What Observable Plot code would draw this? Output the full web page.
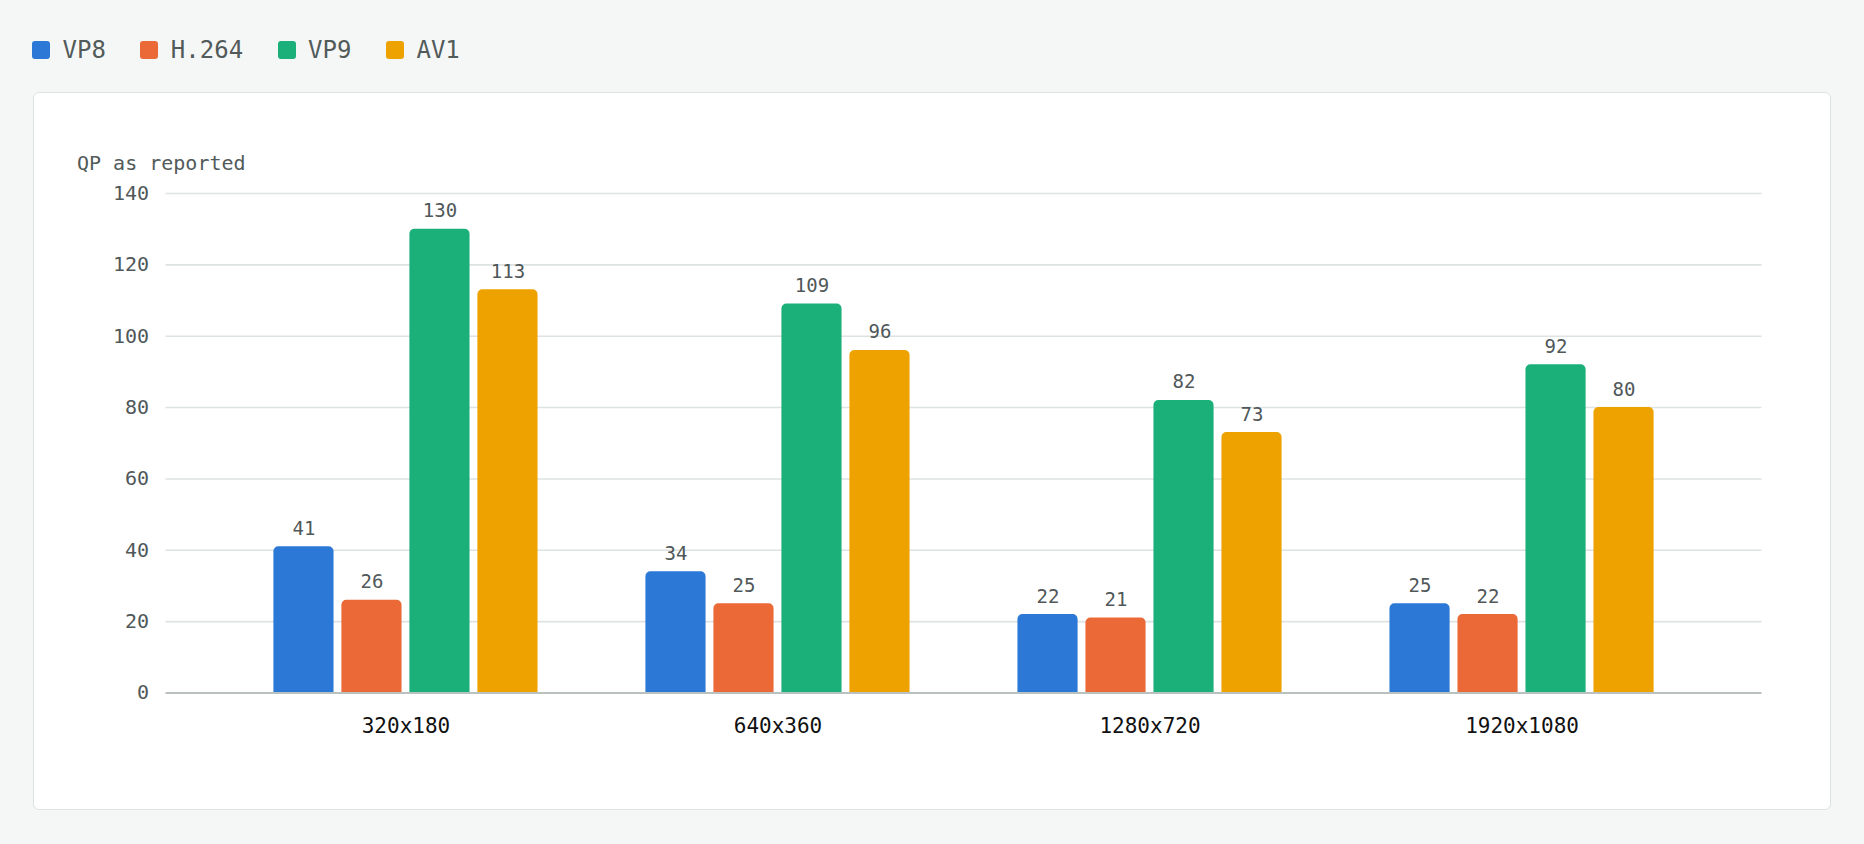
<!DOCTYPE html>
<html>
<head>
<meta charset="utf-8">
<script src="https://cdn.jsdelivr.net/npm/d3@7"></script>
<script src="https://cdn.jsdelivr.net/npm/@observablehq/plot@0.6"></script>
<style>
  html, body { margin: 0; padding: 0; background: #f5f7f7; width: 1864px; height: 844px; overflow: hidden; }
  body { font-family: "DejaVu Sans Mono", monospace; position: relative; }
  #legend { position: absolute; left: 32px; top: 37.5px; display: flex; align-items: center; height: 24px; }
  .item { display: flex; align-items: center; height: 24px; margin-right: 34.5px; }
  .sw { width: 18px; height: 18px; border-radius: 3px; margin-right: 12.5px; }
  .lt { font-size: 24px; line-height: 24px; color: #525a5a; }
  #card { position: absolute; left: 33px; top: 92px; width: 1798px; height: 718px; box-sizing: border-box;
          background: #fff; border: 1.5px solid #dde2e2; border-radius: 6px; }
  #ylabel { position: absolute; left: 43px; top: 59.5px; font-size: 20px; line-height: 20px; color: #525a5a; white-space: nowrap; }
  #chart { position: absolute; left: 0; top: 0; }
</style>
</head>
<body>
<div id="legend"></div>
<div id="card">
  <div id="ylabel">QP as reported</div>
  <div id="chart"></div>
</div>
<script>
const resolutions = ["320x180", "640x360", "1280x720", "1920x1080"];
const codecs = ["VP8", "H.264", "VP9", "AV1"];
const codecColors = ["#2b78d6", "#eb6837", "#1bb07a", "#eea200"];
const vp8 = [41, 34, 22, 25];
const h264 = [26, 25, 21, 22];
const vp9 = [130, 109, 82, 92];
const av1 = [113, 96, 73, 80];
const yTicks = [0, 20, 40, 60, 80, 100, 120, 140];

const series = [vp8, h264, vp9, av1];
const data = resolutions.flatMap((r, i) => codecs.map((c, j) => ({res: r, codec: c, value: series[j][i]})));

// legend
const legend = document.getElementById("legend");
codecs.forEach((c, j) => {
  const it = document.createElement("div");
  it.className = "item";
  it.innerHTML = `<div class="sw" style="background:${codecColors[j]}"></div><span class="lt">${c}</span>`;
  legend.appendChild(it);
});

const STEP = 68; // bar width + gap within a group
const n = codecs.length;

const marks = [
  Plot.ruleY(yTicks.filter(t => t > 0), {stroke: "#dde2e2", strokeWidth: 1.6}),
  ...codecs.map((c, j) => Plot.barY(data.filter(d => d.codec === c), {
    x: "res", y: "value", fill: "codec",
    insetLeft: j * STEP, insetRight: (n - 1 - j) * STEP,
    ry1: 5
  })),
  Plot.ruleY([0], {stroke: "#b9c1c1", strokeWidth: 2}),
  ...codecs.map((c, j) => Plot.text(data.filter(d => d.codec === c), {
    x: "res", y: "value", text: d => String(d.value),
    dx: (j - (n - 1) / 2) * STEP, dy: -12, lineAnchor: "bottom",
    fill: "#50585a", fontSize: 19
  })),
  Plot.axisY({ticks: yTicks, tickSize: 0, tickPadding: 17, fontSize: 20, color: "#50585a", label: null}),
  Plot.axisX({tickSize: 0, tickPadding: 25, fontSize: 21, color: "#111", label: null})
];

const chart = Plot.plot({
  width: 1795,
  height: 715,
  marginLeft: 131.5,
  marginRight: 67.5,
  marginTop: 100,
  marginBottom: 115.5,
  style: {fontFamily: "DejaVu Sans Mono", background: "transparent", overflow: "visible"},
  x: {domain: resolutions, padding: 0.29, round: false, axis: null},
  y: {domain: [0, 140], axis: null},
  color: {domain: codecs, range: codecColors},
  marks
});
document.getElementById("chart").appendChild(chart);
</script>
</body>
</html>
